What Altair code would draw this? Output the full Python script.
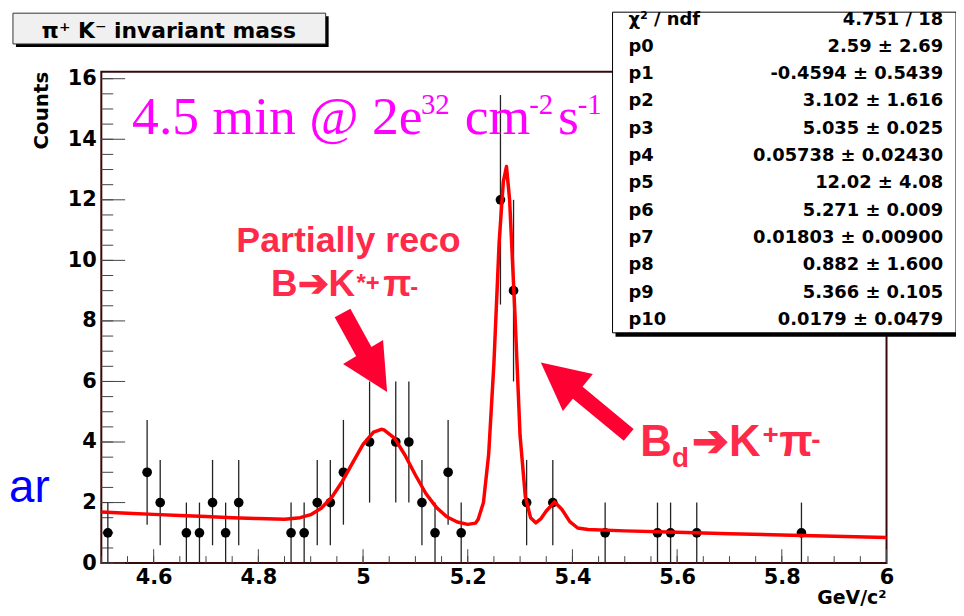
import altair as alt
import pandas as pd

# ---------------- data ----------------
bin_centers = [4.5125, 4.5875, 4.6125, 4.6625, 4.6875, 4.7125, 4.7375, 4.7625,
               4.8625, 4.8875, 4.9125, 4.9375, 4.9625, 5.0125, 5.0625, 5.0875,
               5.1125, 5.1375, 5.1625, 5.1875, 5.2625, 5.2875, 5.3125, 5.3625,
               5.4625, 5.5625, 5.5875, 5.6375, 5.8375]
counts = [1, 3, 2, 1, 1, 2, 1, 2,
          1, 1, 2, 2, 3, 4, 4, 4,
          2, 1, 3, 1, 12, 9, 2, 2,
          1, 1, 1, 1, 1]
errors = [1.0, 1.73, 1.41, 1.0, 1.0, 1.41, 1.0, 1.41,
          1.0, 1.0, 1.41, 1.41, 1.73, 2.0, 2.0, 2.0,
          1.41, 1.0, 1.73, 1.0, 3.46, 3.0, 1.41, 1.41,
          1.0, 1.0, 1.0, 1.0, 1.0]

curve_x = [4.50, 4.55, 4.60, 4.65, 4.70, 4.75, 4.80, 4.85, 4.88, 4.90, 4.92, 4.94,
           4.96, 4.98, 5.00, 5.02, 5.035, 5.04, 5.06, 5.08, 5.10, 5.12, 5.14, 5.16,
           5.18, 5.20, 5.215, 5.22, 5.23, 5.24, 5.25, 5.26, 5.268, 5.274, 5.28, 5.29,
           5.30, 5.31, 5.32, 5.33, 5.34, 5.35, 5.366, 5.38, 5.395, 5.41, 5.43, 5.50,
           5.60, 5.70, 5.80, 5.90, 6.00]
curve_y = [1.69, 1.65, 1.61, 1.57, 1.54, 1.50, 1.47, 1.45, 1.50, 1.60, 1.81, 2.17,
           2.69, 3.31, 3.92, 4.33, 4.42, 4.40, 4.13, 3.57, 2.91, 2.30, 1.84, 1.53,
           1.36, 1.28, 1.32, 1.45, 2.0, 3.6, 6.6, 10.6, 12.6, 13.1, 12.0, 8.3,
           4.2, 2.2, 1.5, 1.33, 1.47, 1.72, 2.02, 1.77, 1.37, 1.16, 1.11, 1.065,
           1.018, 0.972, 0.928, 0.886, 0.847]

x_tick_values = [4.6, 4.8, 5.0, 5.2, 5.4, 5.6, 5.8, 6.0]
y_tick_values = [0, 2, 4, 6, 8, 10, 12, 14, 16]
x_minor_ticks = [round(4.5 + 0.05 * i, 2) for i in range(31)]
y_minor_ticks = [0.5 * i for i in range(33)]

stat_names = ["χ² / ndf", "p0", "p1", "p2", "p3", "p4", "p5", "p6", "p7", "p8", "p9", "p10"]
stat_values = ["4.751 / 18", "2.59 ± 2.69", "-0.4594 ± 0.5439", "3.102 ± 1.616",
               "5.035 ± 0.025", "0.05738 ± 0.02430", "12.02 ± 4.08", "5.271 ± 0.009",
               "0.01803 ± 0.00900", "0.882 ± 1.600", "5.366 ± 0.105", "0.0179 ± 0.0479"]

hist_title = "π⁺ K⁻ invariant mass"
y_title = "Counts"
x_title = "GeV/c²"

# magenta luminosity label: (text, x, baseline y) in data units
lumi_main = [("4.5 min @ 2e", 4.5588, 14.174), ("cm", 5.1941, 14.174), ("s", 5.3723, 14.174)]
lumi_sup = [("32", 5.1106, 14.82), ("-2", 5.3173, 14.82), ("-1", 5.4102, 14.82)]

# red annotations (text, x, baseline y) in data units
ann1_big = [("B➔K", 4.8243, 8.820), ("π", 5.0386, 8.820)]
ann1_small = [("*+", 4.9874, 8.984), ("-", 5.0900, 8.852)]
ann2_big = [("B", 5.5297, 3.541), ("➔K", 5.6283, 3.541), ("π", 5.7952, 3.541)]
ann2_small = [("d", 5.5904, 3.180), ("+", 5.7630, 3.934), ("-", 5.8560, 3.770)]

# arrows: tail -> head centre (data units) and head direction (deg)
arrow1 = {"x": 4.9608, "y": 8.262, "x2": 5.0230, "y2": 6.311}
arrow2 = {"x": 5.5075, "y": 4.236, "x2": 5.3750, "y2": 6.131}
arrow1_angle, arrow2_angle = 149, 309

# ---------------- styling ----------------
W, H = 791, 495
xs = alt.Scale(domain=[4.5, 6.0], nice=False, zero=False)
ys = alt.Scale(domain=[0, 16.23], nice=False, zero=False)
AXF = "DejaVu Sans"
SANS = "Liberation Sans"
RED_TXT = "#ff2a4a"
RED_ARR = "#ff0033"
FRAME = "#3a0808"

common_axis = dict(title=None, ticks=False, domain=False, grid=False, format="~g",
                   labelFont=AXF, labelFontWeight="bold", labelFontSize=21,
                   labelColor="black", labelFlush=False, labelOverlap=False)
xaxis = alt.Axis(values=x_tick_values, labelPadding=4, **common_axis)
yaxis = alt.Axis(values=y_tick_values, labelPadding=5, **common_axis)


def X(f):
    return alt.X(f, type="quantitative", scale=xs, axis=xaxis)


def Y(f):
    return alt.Y(f, type="quantitative", scale=ys, axis=yaxis)


one = pd.DataFrame({"a": [0]})

# ---------------- layers ----------------
pts = pd.DataFrame({"m": bin_centers, "n": counts, "e": errors})
pts["lo"] = pts["n"] - pts["e"]
pts["hi"] = pts["n"] + pts["e"]

ytick_major = alt.Chart(pd.DataFrame({"v": y_tick_values})).mark_rule(color="#444", strokeWidth=1).encode(
    y=Y("v"), x=alt.value(0), x2=alt.value(24))
ytick_minor = alt.Chart(pd.DataFrame({"v": y_minor_ticks})).mark_rule(color="#444", strokeWidth=1).encode(
    y=Y("v"), x=alt.value(0), x2=alt.value(12))
xtick_major = alt.Chart(pd.DataFrame({"v": x_tick_values})).mark_rule(color="#444", strokeWidth=1).encode(
    x=X("v"), y=alt.value(H), y2=alt.value(H - 14))
xtick_minor = alt.Chart(pd.DataFrame({"v": x_minor_ticks})).mark_rule(color="#444", strokeWidth=1).encode(
    x=X("v"), y=alt.value(H), y2=alt.value(H - 7))

errbars = alt.Chart(pts).mark_rule(color="#222", strokeWidth=1.3).encode(
    x=X("m"), y=Y("lo"), y2=alt.Y2("hi"))
dots = alt.Chart(pts).mark_circle(color="black", size=95, opacity=1).encode(x=X("m"), y=Y("n"))

curve = alt.Chart(pd.DataFrame({"cx": curve_x, "cy": curve_y})).mark_line(
    color="#ff0000", strokeWidth=3.5, strokeJoin="round").encode(x=X("cx"), y=Y("cy"), order="cx:Q")

TRI = "M0,-1L1,1L-1,1Z"
shaft1 = alt.Chart(pd.DataFrame([arrow1])).mark_rule(color=RED_ARR, strokeWidth=18, strokeCap="butt").encode(
    x=X("x"), y=Y("y"), x2="x2:Q", y2="y2:Q")
shaft2 = alt.Chart(pd.DataFrame([arrow2])).mark_rule(color=RED_ARR, strokeWidth=15.5, strokeCap="butt").encode(
    x=X("x"), y=Y("y"), x2="x2:Q", y2="y2:Q")
head1 = alt.Chart(pd.DataFrame([arrow1])).mark_point(
    shape=TRI, filled=True, size=2209, color=RED_ARR, opacity=1, strokeWidth=0, angle=arrow1_angle).encode(
    x=X("x2"), y=Y("y2"))
head2 = alt.Chart(pd.DataFrame([arrow2])).mark_point(
    shape=TRI, filled=True, size=2304, color=RED_ARR, opacity=1, strokeWidth=0, angle=arrow2_angle).encode(
    x=X("x2"), y=Y("y2"))


def text_layer(rows, **props):
    df = pd.DataFrame(rows, columns=["t", "x", "y"])
    return alt.Chart(df).mark_text(**props).encode(x=X("x"), y=Y("y"), text="t:N")


lumi1 = text_layer(lumi_main, font="Liberation Serif", fontSize=54, color="#ff00ff",
                   align="left", baseline="alphabetic")
lumi2 = text_layer(lumi_sup, font="Liberation Serif", fontSize=29, color="#ff00ff",
                   align="left", baseline="alphabetic")
part = text_layer([("Partially reco", 4.9722, 10.262)], font=SANS, fontSize=36, fontWeight="bold",
                  color=RED_TXT, align="center", baseline="alphabetic")
a1b = text_layer(ann1_big, font=SANS, fontSize=37, fontWeight="bold", color=RED_TXT,
                 align="left", baseline="alphabetic")
a1s = text_layer(ann1_small, font=SANS, fontSize=24, fontWeight="bold", color=RED_TXT,
                 align="left", baseline="alphabetic")
a2b = text_layer(ann2_big, font=SANS, fontSize=44, fontWeight="bold", color=RED_TXT,
                 align="left", baseline="alphabetic")
a2s = text_layer(ann2_small, font=SANS, fontSize=28, fontWeight="bold", color=RED_TXT,
                 align="left", baseline="alphabetic")

# stats box (outside / over the frame)
stat_shadow = alt.Chart(one).mark_rect(color="black").encode(
    x=alt.value(518), x2=alt.value(866), y=alt.value(-57), y2=alt.value(267))
stat_box = alt.Chart(one).mark_rect(fill="white", stroke="black", strokeWidth=1).encode(
    x=alt.value(515), x2=alt.value(861), y=alt.value(-60), y2=alt.value(263))
stat_lab = alt.Chart(one).mark_text(text=stat_names, font=AXF, fontSize=18, fontWeight="bold",
                                    color="black", align="left", baseline="middle", lineHeight=27.5).encode(
    x=alt.value(531), y=alt.value(-52.5))
stat_val = alt.Chart(one).mark_text(text=stat_values, font=AXF, fontSize=18, fontWeight="bold",
                                    color="black", align="right", baseline="middle", lineHeight=27.5).encode(
    x=alt.value(848), y=alt.value(-52.5))

# histogram title box
title_shadow = alt.Chart(one).mark_rect(color="black").encode(
    x=alt.value(-86), x2=alt.value(229), y=alt.value(-56), y2=alt.value(-25))
title_box = alt.Chart(one).mark_rect(fill="#f0f0f0", stroke="#333", strokeWidth=1).encode(
    x=alt.value(-89), x2=alt.value(226), y=alt.value(-59), y2=alt.value(-28))
title_txt = alt.Chart(one).mark_text(text=hist_title, font=AXF, fontSize=22, fontWeight="bold",
                                     color="black", align="center", baseline="alphabetic").encode(
    x=alt.value(68), y=alt.value(-34))

ytitle = alt.Chart(one).mark_text(text=y_title, font=AXF, fontSize=20, fontWeight="bold", color="black",
                                  angle=270, align="right", baseline="middle").encode(
    x=alt.value(-60), y=alt.value(0))
xtitle = alt.Chart(one).mark_text(text=x_title, font=AXF, fontSize=19, fontWeight="bold", color="black",
                                  align="right", baseline="alphabetic").encode(
    x=alt.value(791), y=alt.value(536))
blue = alt.Chart(one).mark_text(text="ar", font=SANS, fontSize=46, color="#0000ff",
                                align="right", baseline="alphabetic").encode(
    x=alt.value(-52), y=alt.value(433))

chart = alt.layer(
    ytick_minor, ytick_major, xtick_minor, xtick_major,
    errbars, dots, curve,
    shaft1, head1, shaft2, head2,
    lumi1, lumi2, part, a1b, a1s, a2b, a2s,
    stat_shadow, stat_box, stat_lab, stat_val,
    title_shadow, title_box, title_txt,
    ytitle, xtitle, blue,
).properties(
    width=W, height=H,
    padding={"left": 94, "top": 62, "right": 70, "bottom": 43},
    autosize=alt.AutoSizeParams(type="none"),
    background="white",
).configure_view(stroke=FRAME, strokeWidth=2)

chart.save("out.html", embed_options={"renderer": "svg", "actions": False})
